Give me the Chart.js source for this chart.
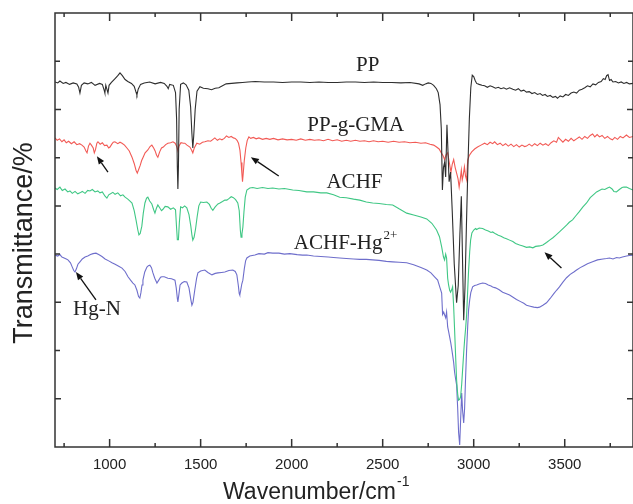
<!DOCTYPE html>
<html>
<head>
<meta charset="utf-8">
<script src="https://cdn.jsdelivr.net/npm/chart.js@4.4.0/dist/chart.umd.min.js"></script>
<style>
  html, body { margin: 0; padding: 0; background: #fff; }
</style>
</head>
<body>
<canvas id="c" width="633" height="504"></canvas>
<script>
// FTIR spectra: [wavenumber cm-1, transmittance (offset, a.u.)]
const xMin = 700, xMax = 3875;
const yMin = 0, yMax = 90;
const xMajorTicks = [1000, 1500, 2000, 2500, 3000, 3500];
const xMinorTicks = [750, 1250, 1750, 2250, 2750, 3250, 3750];
const yMajorTicks = [10, 30, 50, 70];
const yMinorTicks = [20, 40, 60, 80];

const ppData = [
  [700,75.7],[715,75.5],[727,75.9],[745,75.4],[760,75.6],[780,75.2],[800,75.5],[820,75.3],[830,74.6],[837,73.4],
  [845,75.0],[860,75.5],[880,75.3],[900,75.6],[920,75.0],[945,75.4],[960,75.2],[970,74.0],[974,73.4],[979,75.0],
  [985,74.2],[991,73.4],[997,75.0],[1010,75.6],[1030,76.4],[1045,77.0],[1057,77.6],[1070,77.0],[1085,76.2],[1100,75.8],
  [1120,75.4],[1135,74.8],[1145,73.6],[1150,73.0],[1157,74.2],[1170,75.2],[1190,75.5],[1220,75.7],[1250,75.3],[1280,75.6],
  [1300,75.4],[1315,74.8],[1322,74.3],[1330,75.2],[1350,75.0],[1362,73.5],[1368,68.0],[1372,58.0],[1375,53.5],[1378,58.0],
  [1382,70.0],[1390,75.2],[1405,75.5],[1420,75.1],[1435,74.0],[1445,70.5],[1452,65.0],[1457,62.0],[1462,64.5],[1470,70.0],
  [1480,73.8],[1496,74.7],[1515,74.4],[1540,74.3],[1560,74.1],[1580,74.4],[1600,74.5],[1620,74.9],[1640,75.3],[1670,75.4],
  [1700,75.5],[1730,75.6],[1760,75.7],[1800,75.8],[1850,75.7],[1900,75.7],[1950,75.6],[2000,75.7],[2050,75.7],[2100,75.6],
  [2150,75.7],[2200,75.6],[2250,75.6],[2300,75.7],[2350,75.7],[2400,75.6],[2450,75.7],[2500,75.6],[2550,75.6],[2600,75.5],
  [2650,75.6],[2700,75.3],[2720,75.0],[2735,75.3],[2750,75.5],[2765,75.4],[2780,75.0],[2795,74.3],[2805,73.5],[2815,71.0],
  [2822,66.0],[2828,53.3],[2834,58.0],[2840,59.0],[2846,56.0],[2853,66.8],[2858,62.0],[2865,55.0],[2873,57.0],[2882,49.0],
  [2893,38.0],[2906,29.9],[2915,33.5],[2924,44.0],[2932,52.0],[2938,40.0],[2945,26.3],[2952,33.0],[2960,46.0],[2968,58.0],
  [2976,68.0],[2984,74.5],[2992,77.1],[3000,76.8],[3008,76.0],[3016,75.4],[3030,75.2],[3045,75.0],[3060,74.9],[3075,74.6],
  [3090,74.9],[3104,74.7],[3120,74.4],[3135,74.6],[3150,74.3],[3165,74.5],[3180,74.2],[3197,74.5],[3215,74.2],[3230,74.0],
  [3245,74.3],[3260,73.8],[3275,74.0],[3290,73.6],[3305,73.7],[3320,73.3],[3335,73.5],[3350,73.1],[3365,73.3],[3378,72.9],
  [3392,73.1],[3405,72.7],[3420,72.9],[3435,72.5],[3450,72.7],[3460,72.3],[3475,72.8],[3490,72.6],[3505,73.1],[3520,72.9],
  [3535,73.4],[3550,73.6],[3565,73.4],[3580,74.0],[3595,74.2],[3610,74.5],[3625,74.9],[3640,74.7],[3655,75.3],[3670,75.1],
  [3685,75.6],[3700,75.8],[3712,76.4],[3722,76.2],[3730,77.0],[3738,77.2],[3746,76.0],[3755,76.2],[3765,75.7],[3780,75.8],
  [3795,75.5],[3810,75.7],[3825,75.4],[3840,75.6],[3855,75.3],[3875,75.4]
];

const ppgGmaData = [
  [700,64.1],[712,63.6],[725,63.9],[738,63.3],[750,63.7],[762,63.1],[775,63.4],[790,62.9],[805,63.3],[820,62.7],
  [835,62.9],[848,62.6],[860,62.2],[870,61.4],[876,61.0],[884,62.4],[892,63.0],[900,62.6],[910,62.0],[916,61.0],
  [922,61.6],[930,63.0],[936,63.3],[948,62.8],[960,63.1],[972,62.5],[985,62.6],[995,62.0],[1002,62.2],[1012,62.8],
  [1020,63.2],[1029,63.3],[1045,62.9],[1057,63.2],[1068,63.0],[1082,62.6],[1095,62.0],[1108,61.4],[1123,60.1],[1135,58.8],
  [1145,57.4],[1152,56.8],[1160,57.6],[1168,58.4],[1176,59.4],[1183,60.0],[1195,61.0],[1210,61.6],[1222,62.3],[1232,62.6],
  [1242,62.0],[1250,61.4],[1258,60.5],[1265,60.1],[1275,61.2],[1285,62.0],[1295,62.2],[1308,62.7],[1320,63.0],[1335,63.1],
  [1348,63.3],[1360,63.0],[1370,62.2],[1375,61.4],[1381,62.4],[1392,63.1],[1405,63.0],[1413,63.0],[1425,62.6],[1441,62.2],
  [1450,61.6],[1457,61.0],[1465,62.0],[1479,63.0],[1495,62.8],[1510,63.2],[1523,63.3],[1540,63.5],[1555,63.4],[1568,63.8],
  [1578,64.1],[1592,63.6],[1605,63.9],[1617,63.7],[1630,64.0],[1642,64.5],[1655,64.2],[1668,64.4],[1680,64.1],[1690,64.0],
  [1700,63.6],[1708,63.0],[1716,61.5],[1722,59.0],[1727,56.5],[1730,55.0],[1734,56.8],[1740,59.5],[1748,62.0],[1756,63.6],
  [1765,64.3],[1775,64.0],[1790,64.2],[1805,63.9],[1820,64.1],[1840,63.8],[1860,64.0],[1880,63.8],[1900,64.0],[1925,63.7],
  [1950,63.9],[1975,63.7],[2000,63.8],[2025,63.6],[2050,63.9],[2075,63.6],[2100,63.8],[2125,63.6],[2150,63.7],[2175,63.5],
  [2200,63.8],[2225,63.5],[2250,63.7],[2275,63.4],[2300,63.6],[2325,63.4],[2350,63.6],[2375,63.4],[2400,63.5],[2425,63.3],
  [2450,63.5],[2475,63.3],[2500,63.4],[2530,63.2],[2560,63.4],[2590,63.2],[2620,63.3],[2650,63.1],[2680,63.2],[2710,63.0],
  [2735,63.1],[2760,62.8],[2780,62.6],[2796,62.2],[2810,61.8],[2822,61.0],[2832,60.4],[2840,59.6],[2848,60.6],[2857,61.0],
  [2866,59.0],[2875,57.0],[2882,58.6],[2890,59.6],[2898,58.0],[2906,56.8],[2914,55.6],[2920,53.9],[2926,55.5],[2932,57.4],
  [2937,55.4],[2943,56.5],[2949,58.1],[2955,56.2],[2961,55.4],[2967,59.5],[2975,60.4],[2989,61.2],[3005,61.8],[3021,62.2],
  [3040,62.6],[3060,63.0],[3075,62.7],[3090,63.2],[3104,62.9],[3115,63.3],[3130,62.7],[3145,63.0],[3160,62.5],[3175,62.9],
  [3190,62.4],[3205,62.8],[3220,62.3],[3235,62.7],[3250,62.2],[3265,62.6],[3280,62.3],[3290,62.4],[3305,62.8],[3320,62.4],
  [3335,62.9],[3350,62.5],[3365,63.0],[3380,62.6],[3395,62.9],[3410,62.5],[3425,63.1],[3440,63.5],[3455,63.2],[3465,64.2],
  [3475,63.8],[3490,63.2],[3505,63.8],[3520,63.4],[3535,64.0],[3550,63.5],[3565,63.9],[3580,64.3],[3595,63.8],[3610,64.4],
  [3625,64.0],[3640,64.6],[3653,64.9],[3665,64.3],[3678,64.8],[3691,64.3],[3705,64.6],[3720,64.0],[3735,64.4],[3750,63.9],
  [3762,63.7],[3775,64.2],[3790,63.8],[3805,64.4],[3820,64.1],[3839,64.7],[3855,64.2],[3875,64.4]
];

const achfData = [
  [700,53.7],[712,53.4],[727,53.9],[740,53.2],[755,53.5],[770,52.9],[782,53.1],[795,52.6],[810,53.0],[825,52.5],
  [837,52.7],[850,53.0],[865,52.6],[880,53.2],[892,53.1],[905,53.4],[920,52.9],[935,53.1],[947,52.7],[960,52.9],
  [975,52.0],[985,51.6],[995,52.3],[1005,52.5],[1018,52.8],[1030,52.4],[1045,52.7],[1060,52.1],[1073,52.3],[1085,51.8],
  [1100,51.4],[1112,51.0],[1123,50.6],[1135,49.0],[1145,47.1],[1155,45.0],[1161,44.0],[1168,44.3],[1177,45.8],[1185,48.5],
  [1194,50.6],[1203,51.6],[1210,51.8],[1220,51.0],[1232,50.4],[1242,49.2],[1249,48.5],[1257,49.5],[1265,50.2],[1275,49.6],
  [1285,49.0],[1293,49.3],[1305,49.9],[1320,49.8],[1335,49.3],[1350,49.6],[1362,49.2],[1367,46.0],[1372,43.0],[1378,43.0],
  [1383,46.5],[1390,49.8],[1400,49.6],[1412,50.0],[1424,49.6],[1436,48.2],[1446,45.8],[1452,44.0],[1457,42.9],[1464,43.5],
  [1472,45.2],[1481,47.8],[1490,50.0],[1500,50.8],[1515,50.7],[1534,50.8],[1548,50.3],[1558,49.5],[1567,49.1],[1580,49.8],
  [1595,50.4],[1606,50.6],[1620,50.9],[1633,51.2],[1644,51.2],[1655,51.5],[1668,51.9],[1680,51.7],[1692,51.3],[1704,50.6],
  [1712,49.0],[1718,45.0],[1722,43.5],[1727,44.2],[1732,45.6],[1738,48.8],[1745,51.8],[1754,53.3],[1770,53.7],[1787,53.8],
  [1810,53.6],[1840,53.8],[1870,53.6],[1896,53.7],[1930,53.5],[1960,53.6],[2006,53.3],[2040,53.2],[2083,52.9],[2120,52.9],
  [2160,52.7],[2193,52.7],[2230,52.3],[2264,51.8],[2300,51.7],[2340,51.4],[2374,51.2],[2410,50.8],[2445,50.6],[2480,50.5],
  [2520,50.3],[2555,50.2],[2590,49.4],[2632,48.5],[2670,48.1],[2710,47.7],[2742,47.3],[2770,46.4],[2796,45.0],[2812,43.6],
  [2824,41.5],[2834,39.4],[2840,38.8],[2846,40.0],[2851,39.2],[2857,35.0],[2862,33.6],[2868,32.5],[2873,32.1],[2879,32.6],
  [2884,33.2],[2890,29.0],[2895,24.3],[2901,18.5],[2906,13.9],[2912,11.0],[2917,9.7],[2923,9.9],[2928,10.4],[2934,13.0],
  [2939,16.0],[2945,19.5],[2950,22.2],[2956,24.8],[2961,27.4],[2967,32.5],[2972,36.7],[2978,40.5],[2983,42.9],[2990,44.4],
  [3000,45.0],[3010,45.3],[3016,45.1],[3030,45.4],[3049,45.3],[3065,45.0],[3080,44.8],[3095,44.5],[3104,44.6],[3120,44.2],
  [3135,43.9],[3150,43.7],[3165,43.4],[3180,43.2],[3197,42.9],[3215,42.6],[3230,42.2],[3252,41.9],[3270,41.7],[3290,41.4],
  [3307,41.5],[3325,41.3],[3340,41.6],[3362,41.7],[3380,41.9],[3400,42.4],[3417,42.9],[3435,43.4],[3450,43.9],[3471,44.6],
  [3490,45.3],[3510,46.0],[3525,46.6],[3543,47.1],[3560,47.9],[3580,48.8],[3600,49.8],[3620,50.6],[3640,51.7],[3660,52.4],
  [3675,52.9],[3690,53.2],[3705,53.5],[3720,53.4],[3735,53.7],[3746,53.9],[3760,53.5],[3770,53.0],[3784,52.9],[3800,53.4],
  [3815,53.8],[3825,53.9],[3839,53.9],[3855,53.6],[3875,53.3]
];

const achfHgData = [
  [700,39.8],[715,39.6],[727,39.9],[738,39.4],[750,39.2],[762,39.0],[771,38.8],[785,38.2],[795,37.3],[803,36.6],
  [810,36.3],[818,37.0],[826,37.9],[837,38.4],[850,39.0],[865,39.4],[880,39.6],[895,39.9],[909,40.1],[925,40.2],
  [940,39.9],[958,39.5],[975,39.0],[995,38.6],[1013,38.2],[1030,37.9],[1050,37.5],[1068,37.1],[1085,36.4],[1101,35.3],
  [1115,34.6],[1128,34.0],[1139,33.6],[1150,32.5],[1159,31.2],[1166,30.9],[1172,32.0],[1178,33.6],[1183,34.6],[1193,36.3],
  [1205,37.3],[1213,37.6],[1221,37.7],[1230,37.2],[1238,36.1],[1248,35.0],[1260,34.0],[1270,34.6],[1280,35.2],[1287,35.3],
  [1300,35.3],[1320,35.0],[1340,34.9],[1359,34.6],[1366,33.0],[1372,30.8],[1375,30.1],[1380,31.5],[1387,33.6],[1397,34.0],
  [1410,34.3],[1424,34.2],[1436,33.0],[1446,30.6],[1452,29.4],[1458,30.0],[1468,32.6],[1478,35.0],[1485,36.1],[1500,36.5],
  [1523,36.7],[1540,36.2],[1562,35.7],[1580,36.0],[1595,36.1],[1615,36.2],[1633,36.3],[1655,36.6],[1677,36.7],[1690,36.4],
  [1699,35.7],[1707,33.5],[1712,31.8],[1715,31.5],[1720,32.5],[1726,33.8],[1732,34.6],[1740,37.0],[1747,38.6],[1754,39.2],
  [1770,39.6],[1798,39.8],[1820,40.1],[1850,40.0],[1870,40.3],[1896,40.2],[1930,40.2],[1960,40.0],[1990,40.1],[2030,39.9],
  [2060,39.8],[2083,39.8],[2120,39.6],[2160,39.5],[2200,39.4],[2230,39.3],[2264,39.2],[2300,39.1],[2340,39.0],[2374,38.9],
  [2410,38.9],[2445,38.8],[2480,38.7],[2520,38.5],[2555,38.4],[2590,38.3],[2632,38.2],[2670,37.8],[2710,37.2],[2742,36.7],
  [2765,36.1],[2785,35.3],[2802,34.6],[2815,33.0],[2824,31.9],[2829,27.5],[2835,28.0],[2840,27.4],[2846,26.8],[2851,28.0],
  [2857,24.9],[2862,24.0],[2868,22.8],[2874,21.6],[2879,20.4],[2884,19.1],[2890,17.5],[2895,15.5],[2901,14.0],[2906,12.9],
  [2912,8.0],[2917,3.0],[2923,0.4],[2928,5.5],[2934,11.2],[2939,7.5],[2945,5.0],[2950,8.0],[2955,14.0],[2961,20.1],
  [2967,25.0],[2972,28.5],[2978,30.5],[2984,32.0],[2994,33.2],[3005,33.5],[3016,33.6],[3030,33.8],[3049,34.0],[3065,33.9],
  [3080,33.6],[3095,33.4],[3104,33.2],[3120,33.0],[3140,32.6],[3159,32.1],[3180,31.8],[3197,31.5],[3214,31.1],[3235,30.6],
  [3255,30.2],[3275,29.8],[3290,29.4],[3310,29.2],[3330,29.0],[3350,28.9],[3362,29.0],[3380,29.4],[3400,29.9],[3420,30.8],
  [3440,31.8],[3455,32.5],[3471,33.2],[3490,34.2],[3510,35.1],[3530,35.8],[3550,36.3],[3565,36.7],[3585,37.2],[3605,37.6],
  [3625,38.0],[3653,38.4],[3680,38.8],[3710,39.0],[3730,39.1],[3746,39.2],[3765,39.0],[3785,39.3],[3800,39.2],[3817,39.4],
  [3840,39.6],[3855,39.7],[3875,39.8]
];

// curve labels and arrows, in data coordinates
const curveLabels = [
  { text: 'PP',       x: 2418, y: 78.0, align: 'center' },
  { text: 'PP-g-GMA', x: 2352, y: 65.6, align: 'center' },
  { text: 'ACHF',     x: 2345, y: 53.7, align: 'center' },
  { text: 'ACHF-Hg',  sup: '2+', x: 2012, y: 41.1, align: 'left' },
  { text: 'Hg-N',     x: 799,  y: 27.4, align: 'left' },
];
const arrows = [
  { from: [991, 57.0],  to: [930, 60.3] },
  { from: [1929, 56.2], to: [1776, 60.1] },
  { from: [3482, 37.1], to: [3389, 40.4] },
  { from: [925, 30.5],  to: [815, 36.3] },
];

const SANS = '"Liberation Sans", Arial, sans-serif';
const SERIF = '"Liberation Serif", "Times New Roman", serif';
const INK = '#222';

function toXY(rows) { return rows.map(r => ({ x: r[0], y: r[1] })); }

function series(label, rows, color) {
  return {
    label,
    data: toXY(rows),
    borderColor: color,
    borderWidth: 1.1,
    pointRadius: 0,
    tension: 0,
    fill: false,
  };
}

// frame with inward ticks on all four sides, titles, curve labels, arrows
const framePlugin = {
  id: 'frame',
  afterDatasetsDraw(chart) {
    const { ctx, chartArea: a, scales: { x, y } } = chart;
    ctx.save();
    ctx.strokeStyle = '#333';
    ctx.lineWidth = 1.5;
    ctx.strokeRect(a.left, a.top, a.right - a.left, a.bottom - a.top);
    ctx.beginPath();
    const xt = (v, len) => {
      const px = x.getPixelForValue(v);
      ctx.moveTo(px, a.bottom); ctx.lineTo(px, a.bottom - len);
      ctx.moveTo(px, a.top);    ctx.lineTo(px, a.top + len);
    };
    const yt = (v, len) => {
      const py = y.getPixelForValue(v);
      ctx.moveTo(a.left, py);  ctx.lineTo(a.left + len, py);
      ctx.moveTo(a.right, py); ctx.lineTo(a.right - len, py);
    };
    xMajorTicks.forEach(v => xt(v, 8));
    xMinorTicks.forEach(v => xt(v, 4));
    yMajorTicks.forEach(v => yt(v, 6));
    yMinorTicks.forEach(v => yt(v, 5));
    ctx.stroke();

    ctx.fillStyle = INK;

    // y axis title, rotated
    ctx.save();
    ctx.translate(25, 243);
    ctx.rotate(-Math.PI / 2);
    ctx.font = '27px ' + SANS;
    ctx.textAlign = 'center';
    ctx.textBaseline = 'middle';
    ctx.fillText('Transmittance/%', 0, 0);
    ctx.restore();

    // x axis title with superscript
    ctx.textBaseline = 'alphabetic';
    ctx.textAlign = 'left';
    ctx.font = '23px ' + SANS;
    const main = 'Wavenumber/cm';
    ctx.fillText(main, 223, 499);
    const w = ctx.measureText(main).width;
    ctx.font = '14px ' + SANS;
    ctx.fillText('-1', 223 + w + 1, 486);

    // curve labels
    curveLabels.forEach(l => {
      const px = x.getPixelForValue(l.x), py = y.getPixelForValue(l.y);
      ctx.font = '21px ' + SERIF;
      ctx.textAlign = l.align;
      ctx.fillText(l.text, px, py);
      if (l.sup) {
        const tw = ctx.measureText(l.text).width;
        const sx = l.align === 'left' ? px + tw : px + tw / 2;
        ctx.font = '13px ' + SERIF;
        ctx.textAlign = 'left';
        ctx.fillText(l.sup, sx + 1, py - 10);
      }
    });

    // arrows
    ctx.lineWidth = 1.3;
    ctx.strokeStyle = '#111';
    ctx.fillStyle = '#111';
    arrows.forEach(ar => {
      const x0 = x.getPixelForValue(ar.from[0]), y0 = y.getPixelForValue(ar.from[1]);
      const x1 = x.getPixelForValue(ar.to[0]),   y1 = y.getPixelForValue(ar.to[1]);
      const ang = Math.atan2(y1 - y0, x1 - x0);
      const hl = 8, hw = 3.2;
      const bx = x1 - hl * Math.cos(ang), by = y1 - hl * Math.sin(ang);
      ctx.beginPath();
      ctx.moveTo(x0, y0); ctx.lineTo(bx, by);
      ctx.stroke();
      ctx.beginPath();
      ctx.moveTo(x1, y1);
      ctx.lineTo(bx + hw * Math.sin(ang), by - hw * Math.cos(ang));
      ctx.lineTo(bx - hw * Math.sin(ang), by + hw * Math.cos(ang));
      ctx.closePath();
      ctx.fill();
    });
    ctx.restore();
  }
};

new Chart(document.getElementById('c'), {
  type: 'line',
  data: {
    datasets: [
      series('PP', ppData, '#2e2e2e'),
      series('PP-g-GMA', ppgGmaData, '#f25a55'),
      series('ACHF', achfData, '#3fc784'),
      series('ACHF-Hg2+', achfHgData, '#6e6ecb'),
    ],
  },
  options: {
    responsive: false,
    animation: false,
    devicePixelRatio: 1,
    layout: { padding: { top: 13, right: 0, bottom: 0, left: 0 } },
    plugins: { legend: { display: false }, tooltip: { enabled: false } },
    scales: {
      x: {
        type: 'linear',
        min: xMin, max: xMax,
        afterBuildTicks: s => { s.ticks = xMajorTicks.map(v => ({ value: v })); },
        afterFit: s => { s.height = 57; },
        grid: { display: false, drawTicks: false },
        border: { display: false },
        ticks: {
          color: INK,
          padding: 9,
          maxRotation: 0,
          font: { family: SANS, size: 15 },
          callback: v => String(v),
        },
      },
      y: {
        type: 'linear',
        min: yMin, max: yMax,
        afterFit: s => { s.width = 55; },
        grid: { display: false, drawTicks: false },
        border: { display: false },
        ticks: { display: false },
      },
    },
  },
  plugins: [framePlugin],
});
</script>
</body>
</html>
